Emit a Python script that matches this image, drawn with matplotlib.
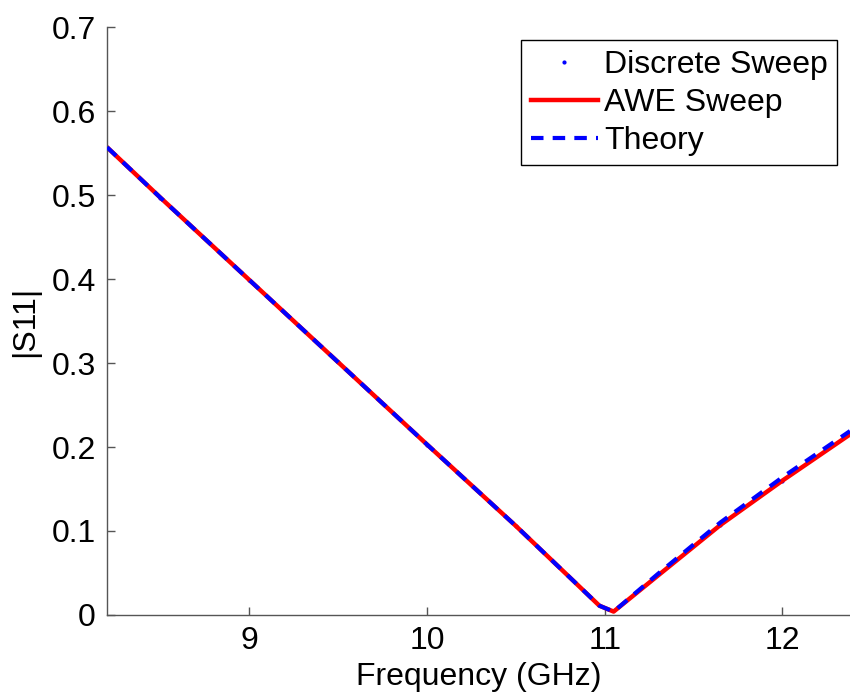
import numpy as np
import matplotlib
matplotlib.use("Agg")
import matplotlib.pyplot as plt

plt.rcParams['font.family'] = ['Liberation Sans', 'DejaVu Sans']

# data
freq_awe = [8.2, 8.5, 9.0, 9.5, 10.0, 10.5, 10.97, 11.05, 11.3, 11.65, 12.0, 12.38]
s11_awe = [0.557, 0.497, 0.399, 0.301, 0.203, 0.106, 0.011, 0.004, 0.047, 0.107, 0.160, 0.215]

freq_th = [8.2, 8.5, 9.0, 9.5, 10.0, 10.5, 10.97, 11.05, 11.3, 11.65, 12.0, 12.38]
s11_th = [0.557, 0.497, 0.399, 0.301, 0.203, 0.106, 0.011, 0.004, 0.049, 0.110, 0.164, 0.219]

freq_disc = [8.5, 9.0, 9.5, 10.0, 10.5, 11.65, 12.0]
s11_disc = [0.497, 0.399, 0.301, 0.203, 0.106, 0.107, 0.160]

xticks = [9, 10, 11, 12]
yticks = [0, 0.1, 0.2, 0.3, 0.4, 0.5, 0.6, 0.7]
ytick_labels = ['0', '0.1', '0.2', '0.3', '0.4', '0.5', '0.6', '0.7']

fs = 23

fig = plt.figure(figsize=(8.5, 6.98), dpi=100)
ax = fig.add_axes([0.126, 0.119, 0.874, 0.842])

ax.plot(freq_disc, s11_disc, '.', color='blue', markersize=4, label='Discrete Sweep', zorder=1)
ax.plot(freq_awe, s11_awe, '-', color='red', linewidth=3.2, label='AWE Sweep', zorder=2)
ax.plot(freq_th, s11_th, '--', color='blue', linewidth=3, dashes=(3, 2.2), label='Theory', zorder=3)

ax.set_xlim(8.2, 12.38)
ax.set_ylim(0, 0.7)
ax.set_xticks(xticks)
ax.set_xticklabels([str(t) for t in xticks])
ax.set_yticks(yticks)
ax.set_yticklabels(ytick_labels)

for side in ['top', 'right']:
    ax.spines[side].set_visible(False)
for side in ['left', 'bottom']:
    ax.spines[side].set_color('#555555')
    ax.spines[side].set_linewidth(1)
ax.tick_params(direction='in', length=6, width=1, color='#555555', labelsize=fs, pad=8)

ax.set_xlabel('Frequency (GHz)', fontsize=fs, labelpad=4)
ax.set_ylabel('|S11|', fontsize=fs, labelpad=8)

leg = ax.legend(loc='upper right', bbox_to_anchor=(0.983, 0.978), fontsize=fs,
                fancybox=False, framealpha=1, edgecolor='black', handlelength=2.1,
                handletextpad=0.2, borderpad=0.3, labelspacing=0.25, borderaxespad=0)
leg.get_frame().set_linewidth(1)

fig.savefig('out.png', dpi=100)
